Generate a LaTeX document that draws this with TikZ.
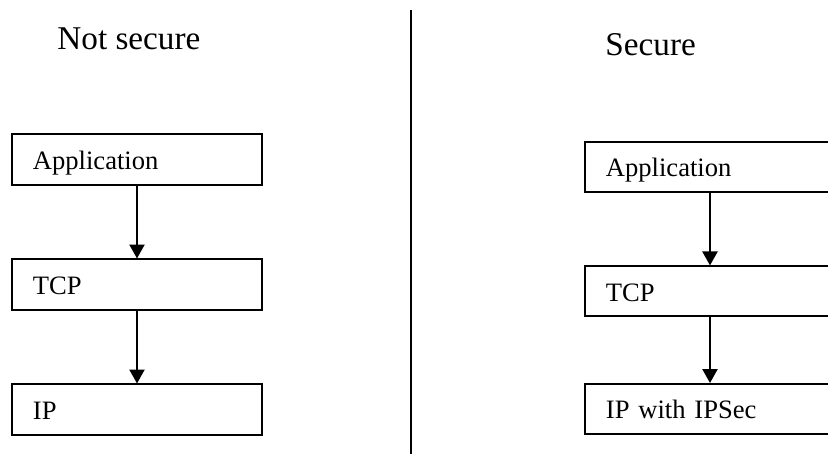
\documentclass[tikz,border=0pt]{standalone}
\usepackage{fontspec}
\setmainfont{Liberation Serif}
\usetikzlibrary{arrows.meta,positioning}

\tikzset{
  layer/.style={draw, line width=0.9pt, minimum width=112.9pt, minimum height=22.6pt,
    text width=94pt, inner xsep=9.5pt, align=left, text height=11pt, text depth=2pt,
    font=\fontsize{12}{14}\selectfont},
  title/.style={anchor=base west, inner sep=0pt, font=\fontsize{15}{18}\selectfont},
  flow/.style={-{Triangle[width=6.8pt,length=6.3pt]}, line width=0.9pt}
}

\begin{document}
\begin{tikzpicture}[x=0.4516pt, y=-0.4516pt, on grid]
   \useasboundingbox (0,0) rectangle (828,454);
   \clip (0,0) rectangle (828,454);
   % not secure stack
   \node[title] (ns) at (57,49) {Not secure};
   \node[layer] (app1) at (137,159.5) {Application};
   \node[layer] (tcp1) [below=56.45pt of app1] {TCP};
   \node[layer] (ip1) [below=56.45pt of tcp1] {IP};
   % secure stack
   \node[title] (sec) at (605,56) {Secure};
   \node[layer] (app2) at (710,167) {Application};
   \node[layer] (tcp2) [below=56.2pt of app2] {TCP};
   \node[layer] (ip2) [below=53.1pt of tcp2] {IP with IPSec};
   % divider
   \coordinate (divtop) at (411,10);
   \coordinate (divbot) at (411,454);
   \draw[line width=1pt] (divtop) -- (divbot);
   \draw[flow] (app1) -- (tcp1);
   \draw[flow] (tcp1) -- (ip1);
   \draw[flow] (app2) -- (tcp2);
   \draw[flow] (tcp2) -- (ip2);
\end{tikzpicture}
\end{document}
